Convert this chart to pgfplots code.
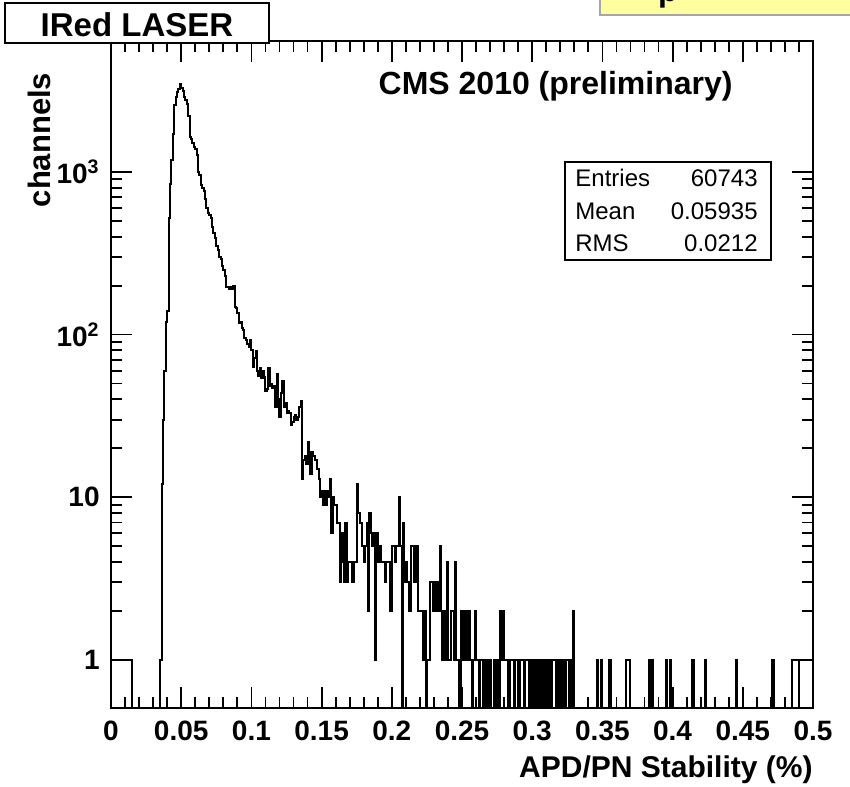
\documentclass[border=0pt]{standalone}
\usepackage{pgfplots}
\pgfplotsset{compat=1.18}
\usepackage{fontspec}
\setmainfont{Liberation Sans}
\definecolor{notey}{RGB}{255,255,160}
\pgfplotstableread{
x v
0.000 1
0.015 0.1
0.035 1
0.036 12
0.037 30
0.038 60
0.039 120
0.040 140
0.041 518
0.042 843
0.043 1183
0.044 1702
0.045 2578
0.046 2900
0.047 3111
0.048 3250
0.049 3455
0.050 3300
0.051 3150
0.052 2900
0.053 2750
0.054 2600
0.055 2200
0.056 1650
0.057 1600
0.058 1500
0.059 1420
0.060 1380
0.061 1270
0.062 1000
0.063 960
0.064 830
0.065 800
0.066 760
0.067 680
0.068 600
0.069 560
0.070 540
0.071 520
0.072 460
0.073 420
0.074 390
0.075 350
0.076 330
0.077 300
0.078 290
0.079 265
0.080 250
0.081 230
0.082 195
0.083 195
0.084 190
0.085 195
0.086 190
0.087 200
0.088 148
0.089 145
0.090 135
0.091 118
0.092 120
0.093 110
0.094 106
0.095 95
0.096 92
0.097 88
0.098 84
0.099 93
0.100 80
0.101 63
0.102 72
0.103 79
0.104 60
0.105 56
0.106 62
0.107 54
0.108 60
0.109 55
0.110 45
0.111 46
0.112 62
0.113 48
0.114 50
0.115 47
0.116 48
0.117 36
0.118 57
0.119 40
0.120 31
0.121 44
0.122 52
0.123 36
0.124 38
0.125 33
0.126 34
0.127 33
0.128 28
0.129 29
0.130 31
0.131 32
0.132 30
0.133 31
0.134 36
0.135 39
0.136 13
0.137 17
0.138 18
0.139 16
0.140 22
0.141 19
0.142 14
0.143 19
0.144 18
0.145 17
0.146 17
0.147 15
0.148 13
0.149 10
0.150 11
0.151 9
0.152 11
0.153 9
0.154 11
0.155 10
0.156 13
0.157 6
0.158 10
0.159 9
0.160 9
0.161 7
0.162 7
0.163 3
0.164 6
0.165 4
0.166 3
0.167 7
0.168 3
0.169 4
0.172 3
0.173 4
0.175 12
0.176 8
0.177 7
0.179 5
0.180 4
0.181 5
0.182 7
0.183 2
0.184 8
0.185 6
0.186 5
0.187 6
0.188 1
0.189 6
0.190 4
0.191 5
0.192 4
0.195 3
0.196 4
0.199 2
0.200 5
0.202 4
0.203 5
0.205 10
0.206 5
0.207 0.1
0.208 7
0.209 3
0.210 4
0.211 3
0.212 2
0.214 5
0.216 3
0.217 5
0.219 2
0.222 1
0.223 2
0.224 0.1
0.225 1
0.227 3
0.229 2
0.230 3
0.231 2
0.232 3
0.233 2
0.234 5
0.235 2
0.236 1
0.237 2
0.238 1
0.239 4
0.240 1
0.242 2
0.244 1
0.245 4
0.246 1
0.248 0.1
0.249 2
0.250 1
0.251 2
0.252 1
0.253 2
0.254 1
0.255 2
0.256 1
0.257 0.1
0.258 1
0.259 2
0.260 1
0.262 0.1
0.263 1
0.265 0.1
0.266 1
0.267 0.1
0.268 1
0.269 0.1
0.270 1
0.271 0.1
0.273 1
0.274 0.1
0.275 1
0.276 0.1
0.277 2
0.278 1
0.279 2
0.280 1
0.283 0.1
0.284 1
0.287 0.1
0.288 1
0.290 0.1
0.291 1
0.294 0.1
0.295 1
0.298 0.1
0.299 1
0.300 0.1
0.301 1
0.302 0.1
0.303 1
0.304 0.1
0.305 1
0.306 0.1
0.307 1
0.308 0.1
0.309 1
0.310 0.1
0.311 1
0.313 0.1
0.314 1
0.317 0.1
0.318 1
0.319 0.1
0.320 1
0.321 0.1
0.322 1
0.323 0.1
0.324 1
0.326 0.1
0.327 1
0.328 0.1
0.329 2
0.330 0.1
0.346 1
0.347 0.1
0.349 1
0.350 0.1
0.355 1
0.356 0.1
0.367 1
0.370 0.1
0.383 1
0.384 0.1
0.385 1
0.386 0.1
0.395 1
0.396 0.1
0.398 1
0.399 0.1
0.414 1
0.415 0.1
0.423 1
0.424 0.1
0.445 1
0.446 0.1
0.471 1
0.472 0.1
0.485 1
0.490 0.1
0.500 0.1
}\histdata
\begin{document}
\begin{tikzpicture}
\useasboundingbox (0,0) rectangle (425pt,393pt);
\begin{axis}[
  at={(55.5pt,39pt)}, anchor=south west,
  width=351pt, height=333.5pt, scale only axis,
  xmin=0, xmax=0.5, ymode=log, ymin=0.507, ymax=6375,
  axis line style={line width=1pt},
  tick align=inside,
  every tick/.style={black, line width=0.9pt},
  major tick length=10.5pt, minor tick length=5.5pt,
  xtick={0,0.05,0.1,0.15,0.2,0.25,0.3,0.35,0.4,0.45,0.5},
  xticklabels={0,0.05,0.1,0.15,0.2,0.25,0.3,0.35,0.4,0.45,0.5},
  minor x tick num=4,
  ytick={1,10,100,1000},
  yticklabels={1,10,10\textsuperscript{2},10\textsuperscript{3}},
  ticklabel style={font=\fontsize{14}{14}\selectfont\bfseries},
  xticklabel style={anchor=north, inner sep=0pt, yshift=-6.5pt},
  yticklabel style={anchor=east, inner sep=0pt, xshift=-5.5pt},
  clip=true,
]
\addplot[const plot, black, line width=1pt] table[x=x, y=v] {\histdata};
\end{axis}
% yellow note box (cut at top of the picture)
\fill[notey] (300pt,385.5pt) rectangle (426pt,394pt);
\draw[gray!70, line width=0.8pt] (300pt,394pt) -- (300pt,385.5pt) -- (426pt,385.5pt);
\node[anchor=base, inner sep=0pt, font=\fontsize{16}{16}\selectfont\bfseries] at (334pt,392pt) {p};
% title box
\draw[line width=1pt, fill=white] (2.5pt,371.5pt) rectangle (134.5pt,391.5pt);
\node[font=\fontsize{16.5}{16.5}\selectfont\bfseries] at (68.5pt,380.5pt) {IRed LASER};
% CMS label
\node[anchor=base east, inner sep=0pt, font=\fontsize{16}{16}\selectfont\bfseries] at (366.5pt,345.5pt) {CMS 2010 (preliminary)};
% stats box
\draw[line width=0.8pt, fill=white] (282.5pt,263pt) rectangle (385.5pt,312pt);
\begin{scope}[every node/.style={inner sep=0pt, font=\fontsize{12}{12}\selectfont}]
\node[anchor=west] at (287.5pt,304pt) {Entries};
\node[anchor=east] at (379pt,304pt) {60743};
\node[anchor=west] at (287.5pt,287.5pt) {Mean};
\node[anchor=east] at (379pt,287.5pt) {0.05935};
\node[anchor=west] at (287.5pt,271.5pt) {RMS};
\node[anchor=east] at (379pt,271.5pt) {0.0212};
\end{scope}
% axis labels
\node[rotate=90, inner sep=0pt, font=\fontsize{15.5}{15.5}\selectfont\bfseries] at (19.5pt,323pt) {channels};
\node[anchor=east, inner sep=0pt, font=\fontsize{15}{15}\selectfont\bfseries] at (406.5pt,8pt) {APD/PN Stability (\%)};
\end{tikzpicture}
\end{document}
